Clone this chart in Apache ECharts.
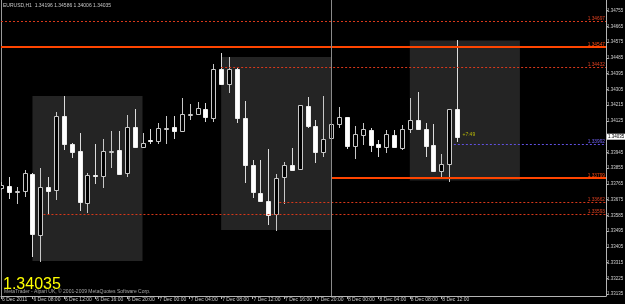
<!DOCTYPE html>
<html><head><meta charset="utf-8">
<script src="https://cdn.jsdelivr.net/npm/echarts@6/dist/echarts.min.js"></script>
<style>html,body{margin:0;padding:0;background:#000;}#c{width:625px;height:304px;}</style>
</head><body><div id="c"></div>
<script>
const chartTitle = 'EURUSD,H1  1.34196 1.34586 1.34006 1.34035';
const copyrightText = 'MetaTrader - Alpari UK, \u00a9 2001-2009 MetaQuotes Software Corp.';
const timerText = '+7:49';
const currentPrice = 1.34035;

const timeLabelBars = [0,4,8,12,16,20,24,28,32,36,40,44,48,52,56];
const timeLabels = ['6 Dec 2011','6 Dec 08:00','6 Dec 12:00','6 Dec 16:00','6 Dec 20:00','7 Dec 00:00','7 Dec 04:00','7 Dec 08:00','7 Dec 12:00','7 Dec 16:00','7 Dec 20:00','8 Dec 00:00','8 Dec 04:00','8 Dec 08:00','8 Dec 12:00'];

const priceTicks = [1.33135,1.33225,1.33315,1.33405,1.33495,1.33585,1.33675,1.33765,1.33855,1.33945,1.34035,1.34125,1.34215,1.34305,1.34395,1.34485,1.34575,1.34665,1.34755];

const opens = [1.33742,1.33753,1.33720,1.33723,1.33822,1.33474,1.33748,1.33731,1.34153,1.33992,
1.33952,1.33655,1.33814,1.33811,1.33953,1.33959,1.33829,1.34092,1.33974,1.34018,
1.34012,1.34084,1.34089,1.34069,1.34164,1.34166,1.34195,1.34144,1.34420,1.34338,
1.34423,1.34144,1.33875,1.33715,1.33666,1.33592,1.33807,1.33875,1.33849,1.34209,
1.34098,1.33946,1.34026,1.34110,1.34146,1.33980,1.34046,1.34075,1.33992,1.33974,
1.34046,1.33972,1.34077,1.34129,1.34077,1.33988,1.33837,1.33877,1.34196];
const closes = [1.33761,1.33719,1.33722,1.33826,1.33478,1.33746,1.33725,1.34153,1.33992,1.33948,
1.33660,1.33816,1.33811,1.33953,1.33956,1.33824,1.34090,1.33976,1.34001,1.34015,
1.34086,1.34086,1.34069,1.34165,1.34167,1.34197,1.34146,1.34420,1.34334,1.34423,
1.34144,1.33872,1.33717,1.33668,1.33586,1.33801,1.33872,1.33843,1.34214,1.34096,
1.33946,1.34020,1.34108,1.34146,1.33982,1.34049,1.34077,1.33989,1.33976,1.34049,
1.33974,1.34081,1.34130,1.34077,1.33984,1.33837,1.33877,1.34191,1.34035];
const highs = [1.33776,1.33807,1.33749,1.33845,1.33828,1.33856,1.33807,1.34174,1.34269,1.33997,
1.34058,1.33826,1.33993,1.34020,1.34068,1.34066,1.34157,1.34191,1.34054,1.34081,
1.34112,1.34153,1.34153,1.34254,1.34222,1.34231,1.34226,1.34450,1.34515,1.34492,
1.34425,1.34239,1.33902,1.33902,1.33965,1.33820,1.33891,1.33972,1.34216,1.34262,
1.34130,1.34269,1.34125,1.34203,1.34148,1.34094,1.34113,1.34083,1.34018,1.34075,
1.34072,1.34102,1.34254,1.34290,1.34113,1.34108,1.33936,1.34195,1.34586];
const lows = [1.33731,1.33681,1.33649,1.33689,1.33346,1.33321,1.33590,1.33674,1.33959,1.33915,
1.33611,1.33601,1.33763,1.33744,1.33855,1.33816,1.33807,1.33974,1.33969,1.33992,
1.33993,1.33993,1.34024,1.34067,1.34130,1.34165,1.34121,1.34121,1.34332,1.34283,
1.34112,1.33769,1.33687,1.33666,1.33529,1.33498,1.33651,1.33842,1.33845,1.34086,
1.33887,1.33917,1.34016,1.34086,1.33963,1.33906,1.33988,1.33948,1.33921,1.33944,
1.33969,1.33961,1.34058,1.34076,1.33917,1.33836,1.33797,1.33778,1.34006];

// horizontal level lines
const levelPrices = [1.34697,1.34547,1.34432,1.33992,1.33799,1.33662,1.33593];
const levelStartBars = [0,0,28,57.6,42,35.4,5.4];

// session boxes
const boxStartBars = [4,28,52];
const boxEndBars = [18,42,66];
const boxHighs = [1.34267,1.34490,1.34584];
const boxLows = [1.33325,1.33502,1.33785];

const separatorBar = 42;
const timerBar = 58.7;
const timerPrice = 1.34045;

const X_MIN = 0, X_MAX = 76.95, Y_MIN = 1.33125, Y_MAX = 1.34816;
const SMALL_FONT = 'Liberation Sans';

const levelKinds = ['dot','solid','dot','blue','solid','dot','dot'];
const kindStyle = {
  dot:  {color:'#d8381a', type:[2,2], width:1, label:'#e04020'},
  solid:{color:'#ff4500', type:'solid', width:2, label:'#ff4a10'},
  blue: {color:'#6050e0', type:[2,2], width:1, label:'#7060f0'}
};

const candleData = opens.map((o,i)=>[i, o, closes[i], lows[i], highs[i]]);

const markLineData = levelPrices.map((p,k)=>{
  const st = kindStyle[levelKinds[k]];
  return [
    {coord:[levelStartBars[k], p], lineStyle:{color:st.color, type:st.type, width:st.width, opacity:1},
     label:{show:true, position:'insideEndTop', distance:[1,0], formatter:p.toFixed(5), color:st.label, fontSize:4.8, fontFamily:SMALL_FONT}},
    {coord:[X_MAX, p]}
  ];
});
markLineData.push({xAxis: separatorBar, lineStyle:{color:'#8a8a8a', type:'solid', width:1}, label:{show:false}});

const markAreaData = boxStartBars.map((s,k)=>[
  {coord:[s, boxHighs[k]]}, {coord:[boxEndBars[k], boxLows[k]]}
]);

function renderCandle(params, api){
  const i = api.value(0), o = api.value(1), c = api.value(2), l = api.value(3), h = api.value(4);
  const pO = api.coord([i,o]), pC = api.coord([i,c]), pL = api.coord([i,l]), pH = api.coord([i,h]);
  const cx = Math.round(pO[0]);
  const top = Math.round(Math.min(pO[1], pC[1]));
  const bot = Math.max(top + 1, Math.round(Math.max(pO[1], pC[1])));
  const bull = c > o;
  const cs = params.coordSys;
  const children = [
    {type:'line', shape:{x1:cx+0.5, y1:Math.round(pH[1]), x2:cx+0.5, y2:Math.round(pL[1])},
     style:{stroke: bull ? '#c8c8c8' : '#dcdcdc', lineWidth:1}},
    {type:'rect', shape:{x:cx-1.5, y:top+0.5, width:4, height:bot-top},
     style:{fill: bull ? '#000000' : '#ffffff', stroke: bull ? '#c8c8c8' : '#eeeeee', lineWidth:1}}
  ];
  return {type:'group', children, clipPath:{type:'rect', shape:{x:cs.x, y:cs.y, width:cs.width, height:cs.height}}};
}

const chart = echarts.init(document.getElementById('c'), null, {renderer:'canvas'});
chart.setOption({
  backgroundColor:'#000',
  animation:false,
  title:{text:chartTitle, left:3, top:3, padding:0, textStyle:{fontSize:5, color:'#c8c8c8', fontWeight:'normal', fontFamily:'Liberation Sans'}},
  grid:{left:1, right:19, top:0, bottom:8, containLabel:false, outerBoundsMode:'none'},
  xAxis:{type:'value', min:X_MIN, max:X_MAX, splitLine:{show:false},
    axisLine:{show:true, onZero:false, lineStyle:{color:'#b4b4b4', width:1}},
    axisTick:{show:true, customValues:timeLabelBars, length:3, lineStyle:{color:'#b4b4b4'}},
    axisLabel:{show:true, customValues:timeLabelBars, align:'left', margin:1, padding:[0,0,0,1],
      fontSize:5, color:'#c8c8c8', fontFamily:'Liberation Sans',
      formatter:v=>{const k=timeLabelBars.indexOf(Math.round(v)); return k>=0?timeLabels[k]:'';}}
  },
  yAxis:[{type:'value', position:'right', min:Y_MIN, max:Y_MAX, splitLine:{show:false},
    axisLine:{show:true, onZero:false, lineStyle:{color:'#b4b4b4', width:1}},
    axisTick:{show:true, customValues:priceTicks, length:2, lineStyle:{color:'#b4b4b4'}},
    axisLabel:{show:true, customValues:priceTicks, margin:1, fontSize:4.5, color:'#d0d0d0', fontFamily:SMALL_FONT,
      formatter:v=>{const s=v.toFixed(5); return Math.abs(v-currentPrice)<1e-7?'{cur|'+s+'}':s;},
      rich:{cur:{backgroundColor:'#ffffff', color:'#000000', fontSize:4.5, padding:[1,1,0,1], fontFamily:SMALL_FONT}}}
  },{type:'value', position:'left', min:Y_MIN, max:Y_MAX, show:true, splitLine:{show:false},
    axisLine:{show:true, onZero:false, lineStyle:{color:'#9a9a9a', width:1}}, axisTick:{show:false}, axisLabel:{show:false}}],
  series:[
    {type:'line', name:'objects', data:[[X_MIN, currentPrice]], symbol:'none', lineStyle:{opacity:0}, z:1, silent:true,
     markArea:{silent:true, itemStyle:{color:'#242424'}, data:markAreaData},
     markLine:{silent:true, symbol:'none', animation:false, data:markLineData}
    },
    {type:'custom', name:'EURUSD', data:candleData, encode:{x:0, y:[1,2,3,4]}, renderItem:renderCandle, z:3, silent:true},
    {type:'scatter', data:[[timerBar, timerPrice]], symbolSize:0, z:4, silent:true,
     label:{show:true, position:'right', distance:0, formatter:timerText, color:'#d8d800', fontSize:5, fontFamily:'Liberation Sans'}}
  ],
  graphic:[
    {type:'text', left:3, top:277, z:10, style:{text:'1.34035', fill:'#ffff00', font:'16px "Liberation Sans"'}},
    {type:'text', left:4, top:289, z:11, style:{text:copyrightText, fill:'#a8a8a8', font:'5px "Liberation Sans"'}}
  ]
});
</script></body></html>
